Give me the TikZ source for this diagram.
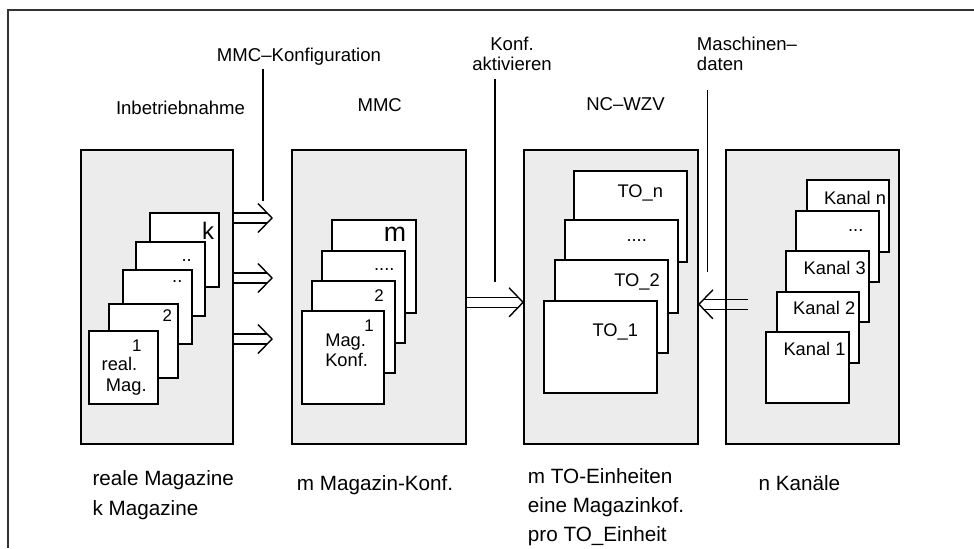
\documentclass[tikz,border=0pt]{standalone}
\usepackage{fontspec}
\setmainfont{Liberation Sans}
\usetikzlibrary{calc,fit}

% double line arrow with open head: #1 tail, #2 tip
\newcommand{\dblarrow}[2]{%
  \draw[conn] ($(#1)+(0,-5)$) -- ($(#2)!0.12cm!(#1)+(0,-5)$);
  \draw[conn] ($(#1)+(0,5)$) -- ($(#2)!0.12cm!(#1)+(0,5)$);
  \draw[conn] ($(#2)!0.35cm!(#1)+(0,-14.5)$) -- (#2) -- ($(#2)!0.35cm!(#1)+(0,14.5)$);
}

\begin{document}
\begin{tikzpicture}[
  x=0.025cm, y=-0.025cm,
  frame/.style={line width=1pt, draw=black!80},
  panel/.style={draw, fill=gray!15, line width=1.3pt, inner sep=0pt},
  sheet/.style={draw, fill=white, line width=1.3pt},
  conn/.style={line width=1pt},
  toplbl/.style={font=\fontsize{13.2}{13.7}\selectfont, inner sep=0pt},
  inlbl/.style={font=\fontsize{13}{15}\selectfont, inner sep=0pt, anchor=base},
  numlbl/.style={font=\fontsize{12}{14}\selectfont, inner sep=0pt, anchor=base},
  botlbl/.style={font=\fontsize{14.7}{20.8}\selectfont, inner sep=0pt, anchor=base west, align=left},
]
\useasboundingbox (0,0) rectangle (974,548);
\draw[frame] (8,548) -- (8,10) -- (974,10);

% grey panels
\node[panel, fit={(81,150) (233,444)}] (real) {};
\node[panel, fit={(292,150) (466,444)}] (mmc) {};
\node[panel, fit={(524,150) (698,444)}] (wzv) {};
\node[panel, fit={(726,150) (899,444)}] (kanal) {};

% real magazines
\draw[sheet] (150,213) rectangle (219,287);
\draw[sheet] (135.7,241.7) rectangle (205,315.7);
\draw[sheet] (123.3,270.3) rectangle (192.3,344.3);
\draw[sheet] (109.3,304.3) rectangle (178.3,378.3);
\draw[sheet] (89,331.3) rectangle (158,404.3);
\node[inlbl, font=\fontsize{17}{19}\selectfont] (rk) at (208,239.3) {k};
\node[inlbl] (rd4) at (186.7,261.7) {..};
\node[inlbl] (rd3) at (177.3,282.3) {..};
\node[numlbl] (r2) at (167.3,321.7) {2};
\node[numlbl] (r1n) at (136.7,351.7) {1};
\node[inlbl] (rreal) at (119.5,370) {real.};
\node[inlbl] (rmag) at (126.3,391.5) {Mag.};

% magazine configurations
\draw[sheet] (332.3,220) rectangle (415.7,312.7);
\draw[sheet] (322.3,251) rectangle (405,343.3);
\draw[sheet] (312.3,280.7) rectangle (395,373.3);
\draw[sheet] (302.3,311) rectangle (384.3,404);
\node[inlbl, font=\fontsize{19}{21}\selectfont] (mm) at (395,241.7) {m};
\node[inlbl] (md) at (384.3,270.7) {....};
\node[numlbl] (m2) at (379,301.7) {2};
\node[numlbl] (m1) at (369,331.7) {1};
\node[inlbl, anchor=base west] (mmag) at (325,346) {Mag.};
\node[inlbl, anchor=base west] (mkonf) at (325,366) {Konf.};

% TO units
\draw[sheet] (574.3,170.7) rectangle (687.3,261.7);
\draw[sheet] (565,220) rectangle (677.7,312.7);
\draw[sheet] (554.7,260) rectangle (667.7,353.3);
\draw[sheet] (544.3,300.7) rectangle (657.3,393.3);
\node[inlbl] (ton) at (640.3,197.3) {TO\_n};
\node[inlbl] (tod) at (636.7,241) {....};
\node[inlbl] (to2) at (637,286.7) {TO\_2};
\node[inlbl] (to1) at (615.3,336.7) {TO\_1};

% channels
\draw[sheet] (806.7,180) rectangle (889.3,252.3);
\draw[sheet] (796,210.7) rectangle (879,281.7);
\draw[sheet] (786,250.7) rectangle (869,322.3);
\draw[sheet] (776.7,291.7) rectangle (859,362.7);
\draw[sheet] (766,331.7) rectangle (849,403.3);
\node[inlbl] (kn) at (855,204) {Kanal n};
\node[inlbl] (kd) at (855.7,231.7) {...};
\node[inlbl] (k3) at (834.7,274) {Kanal 3};
\node[inlbl] (k2) at (824.2,314) {Kanal 2};
\node[inlbl] (k1) at (814.5,355.7) {Kanal 1};

% titles
\node[toplbl, anchor=base] (mmcconf) at (299,61.7) {MMC–Konfiguration};
\node[toplbl, anchor=base] (ibn) at (180.5,114.3) {Inbetriebnahme};
\node[toplbl, anchor=base] (mmct) at (379.7,111.7) {MMC};
\node[toplbl, anchor=base] (nct) at (625.5,110.7) {NC–WZV};
\node[toplbl, anchor=base, align=center] (konf) at (512,70) {Konf.\\aktivieren};
\node[toplbl, anchor=base west, align=left] (mdat) at (696.7,70) {Maschinen–\\daten};

\node[botlbl] (realt) at (92.3,515) {reale Magazine\\k Magazine};
\node[botlbl] (mmcb) at (296.7,490) {m Magazin-Konf.};
\node[botlbl] (wzvb) at (527.7,541.7) {m TO-Einheiten\\eine Magazinkof.\\pro TO\_Einheit};
\node[botlbl] (kanb) at (758.3,490) {n Kanäle};

% connectors
\coordinate (mk) at (263,201);
\coordinate (kb) at (495,282);
\coordinate (mb) at (707.7,271.7);
\coordinate (a1) at (272,218);
\coordinate (a2) at (272,278);
\coordinate (a3) at (272,339);
\coordinate (ka) at (495,302.3);
\coordinate (ma) at (748,304.3);
\draw[conn, shorten <=0.08cm] (mmcconf.south -| mk) -- (mk);
\draw[conn, shorten <=0.22cm] (konf.south -| kb) -- (kb);
\draw[conn, shorten <=0.5cm] (mdat.south -| mb) -- (mb);
\dblarrow{real.east |- a1}{a1}
\dblarrow{real.east |- a2}{a2}
\dblarrow{real.east |- a3}{a3}
\dblarrow{mmc.east |- ka}{wzv.west |- ka}
\dblarrow{ma}{wzv.east |- ma}
\end{tikzpicture}
\end{document}
